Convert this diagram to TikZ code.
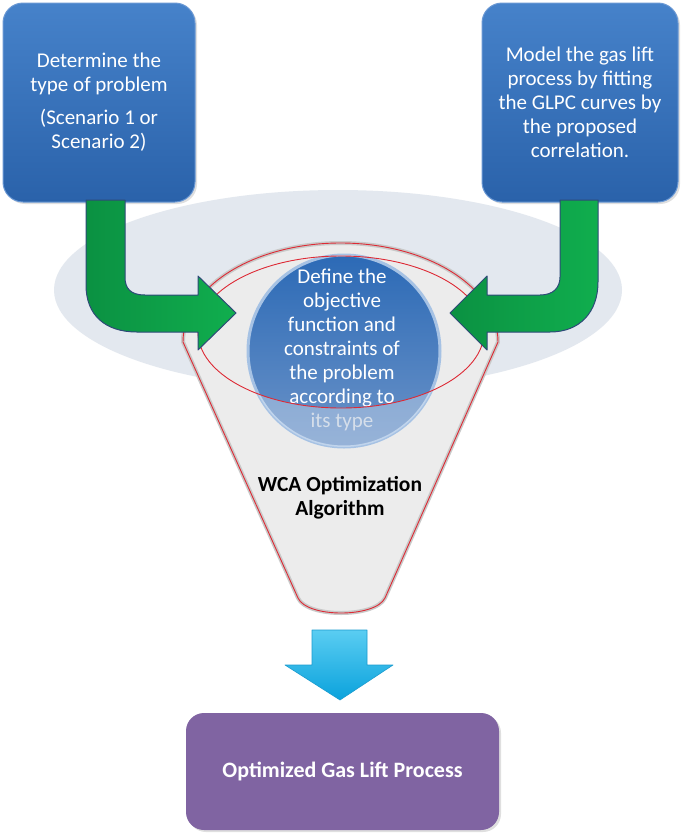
\documentclass[tikz,border=0pt]{standalone}
\usepackage{fontspec}
\setmainfont{Carlito}
\usetikzlibrary{shadows}
\definecolor{bxtop}{HTML}{4682CA}
\definecolor{bxbot}{HTML}{2A62AA}
\definecolor{bxedge}{HTML}{6A98D4}
\definecolor{grn}{HTML}{10AE4E}
\definecolor{grnd}{HTML}{0B9142}
\definecolor{grnedge}{HTML}{2E4A78}
\definecolor{halo}{HTML}{E3E8EF}
\definecolor{funnelgray}{HTML}{ECECEC}
\definecolor{funneledge}{HTML}{C9C9C9}
\definecolor{rimred}{HTML}{DD2A35}
\definecolor{circtop}{HTML}{2C6AB6}
\definecolor{circmid}{HTML}{3A78C4}
\definecolor{circbot}{HTML}{6B93C8}
\definecolor{ring}{HTML}{A6C2E4}
\definecolor{cyanA}{HTML}{5ACDF2}
\definecolor{cyanB}{HTML}{0AA2DC}
\definecolor{cyanedge}{HTML}{1C9CCF}
\definecolor{purp}{HTML}{8064A2}
\definecolor{fadetxt}{HTML}{D5DEEA}
\tikzset{
  txt/.style={font=\fontsize{21}{24}\selectfont, align=center},
  bluebox/.style={rounded corners=20pt, top color=bxtop, bottom color=bxbot,
    draw=bxedge, line width=1pt, text=white, txt,
    drop shadow={opacity=0.25, shadow xshift=2pt, shadow yshift=-2pt}},
  greenarrow/.style={left color=grnd, right color=grn, draw=grnedge,
    line width=1pt, line join=round},
  rimline/.style={draw=rimred, line width=0.9pt},
  purplebox/.style={rounded corners=18pt, fill=purp, text=white,
    font=\bfseries\fontsize{22}{24}\selectfont,
    drop shadow={opacity=0.25, shadow xshift=2pt, shadow yshift=-2pt}},
}
\begin{document}
\begin{tikzpicture}[x=1pt,y=-1pt]
\useasboundingbox (0,0) rectangle (685,833);
\fill[white] (0,0) rectangle (685,833);
% halo ellipse
\fill[halo] (338,290) ellipse [x radius=284, y radius=100];
% funnel
\path[draw=funneledge, line width=4pt, fill=funnelgray, line join=round]
  (183,342) .. controls (183,287.3) and (253.5,243) .. (340.5,243)
  .. controls (427.5,243) and (498,287.3) .. (498,342)
  -- (385,598) .. controls (375,618) and (307,618) .. (298,598) -- cycle;
\path[rimline]
  (183,342) .. controls (183,287.3) and (253.5,243) .. (340.5,243)
  .. controls (427.5,243) and (498,287.3) .. (498,342)
  -- (385,598) .. controls (375,618) and (307,618) .. (298,598) -- cycle;
% boxes
\node[bluebox, minimum width=192pt, minimum height=199pt] (scen) at (99,102.5)
  {Determine the\\type of problem\\[9pt](Scenario 1 or\\Scenario 2)};
\node[bluebox, minimum width=196pt, minimum height=199pt] (model) at (580,102.5)
  {Model the gas lift\\process by fitting\\the GLPC curves by\\the proposed\\correlation.};
% circle
\node[circle, minimum size=192pt, inner sep=0pt, top color=circtop, middle color=circmid,
  bottom color=circbot, draw=ring, line width=3pt] (obj) at (344,351) {};
\begin{scope}
  \clip (344,351) circle [radius=96];
  \fill[white, opacity=0.3, even odd rule] (200,240) rectangle (500,460)
    (341,332) ellipse [x radius=143, y radius=76];
\end{scope}
\node[txt, text=white] (objtxt) at (342,350)
  {Define the\\objective\\function and\\constraints of\\the problem\\according to\\\textcolor{fadetxt}{its type}};
% inner red ellipse
\draw[rimline] (341,332) ellipse [x radius=143, y radius=76];
% green arrows
\path[greenarrow] (86,200) -- (86,285) .. controls (86,315) and (105,332) .. (137,332)
  -- (198,332) -- (198,350) -- (236,313) -- (198,276) -- (198,295) -- (145,295)
  .. controls (130,295) and (125,288) .. (125,277) -- (125,200) -- cycle;
\path[greenarrow] (598,200) -- (598,282) .. controls (598,312) and (580,332) .. (550,332)
  -- (487,332) -- (487,350) -- (450,313) -- (487,276) -- (487,295) -- (540,295)
  .. controls (553,295) and (560,288) .. (560,277) -- (560,200) -- cycle;
% WCA text
\node[font=\bfseries\fontsize{21.5}{24}\selectfont, align=center] (wca) at (340,498)
  {WCA Optimization\\Algorithm};
% cyan arrow
\path[top color=cyanA, bottom color=cyanB, draw=cyanedge, line width=0.6pt, line join=round]
  (312,630) -- (367,630) -- (367,665) -- (393,665) -- (340,700) -- (285,665) -- (312,665) -- cycle;
% purple box
\node[purplebox, minimum width=313pt, minimum height=117pt] (opt) at (342.5,771.5)
  {Optimized Gas Lift Process};
\end{tikzpicture}
\end{document}
